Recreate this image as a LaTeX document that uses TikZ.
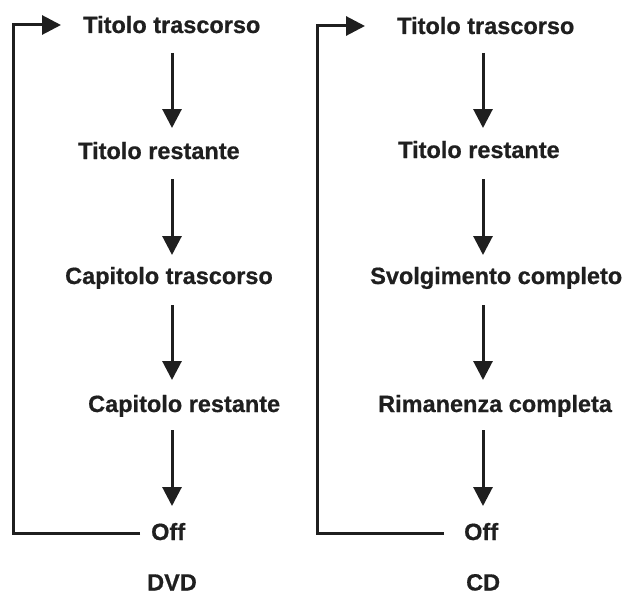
\documentclass[tikz,border=0pt]{standalone}
\usepackage{fontspec}
\setmainfont{Liberation Sans}[BoldFeatures={FakeBold=0.7}]
\usetikzlibrary{arrows.meta}
\begin{document}
\begin{tikzpicture}[x=1pt,y=-1pt,
  lbl/.style={anchor=base west,inner sep=0pt,font=\fontsize{23.5}{28}\selectfont\bfseries,text=black!88},
  arr/.style={line width=3pt,draw=black!88,-{Triangle[length=19pt,width=19pt]}},
  loopline/.style={line width=3pt,draw=black!88}]
\useasboundingbox (0,0) rectangle (629,594);
% DVD column
\node[lbl] (l1) at (83,33) {Titolo trascorso};
\node[lbl] (l2) at (78,159) {Titolo restante};
\node[lbl] (l3) at (65,284) {Capitolo trascorso};
\node[lbl] (l4) at (88,412) {Capitolo restante};
\node[lbl] (l5) at (151,540) {Off};
\node[lbl] (ldvd) at (147,590.5) {DVD};
\coordinate (la1s) at (172,53);  \coordinate (la1e) at (172,128);
\coordinate (la2s) at (172,179); \coordinate (la2e) at (172,255);
\coordinate (la3s) at (172,305); \coordinate (la3e) at (172,380);
\coordinate (la4s) at (172,430); \coordinate (la4e) at (172,506);
\draw[arr] (la1s) -- (la1e);
\draw[arr] (la2s) -- (la2e);
\draw[arr] (la3s) -- (la3e);
\draw[arr] (la4s) -- (la4e);
\coordinate (lbs) at (140,533);
\coordinate (lbc) at (13,533);
\coordinate (ltc) at (13,25);
\coordinate (lte) at (61,25);
\draw[loopline,line join=miter] (lbs) -- (lbc) -- (ltc) -- (45,25);
\draw[arr] (ltc) -- (lte);
% CD column
\node[lbl] (r1) at (397,34) {Titolo trascorso};
\node[lbl] (r2) at (398,158) {Titolo restante};
\node[lbl] (r3) at (370,284) {Svolgimento completo};
\node[lbl] (r4) at (378,412) {Rimanenza completa};
\node[lbl] (r5) at (464,540) {Off};
\node[lbl] (rcd) at (466,590.5) {CD};
\coordinate (ra1s) at (483,53);  \coordinate (ra1e) at (483,128);
\coordinate (ra2s) at (483,179); \coordinate (ra2e) at (483,255);
\coordinate (ra3s) at (483,305); \coordinate (ra3e) at (483,380);
\coordinate (ra4s) at (483,430); \coordinate (ra4e) at (483,506);
\draw[arr] (ra1s) -- (ra1e);
\draw[arr] (ra2s) -- (ra2e);
\draw[arr] (ra3s) -- (ra3e);
\draw[arr] (ra4s) -- (ra4e);
\coordinate (rbs) at (444,533);
\coordinate (rbc) at (317,533);
\coordinate (rtc) at (317,26);
\coordinate (rte) at (365,26);
\draw[loopline,line join=miter] (rbs) -- (rbc) -- (rtc) -- (349,26);
\draw[arr] (rtc) -- (rte);
\end{tikzpicture}
\end{document}
